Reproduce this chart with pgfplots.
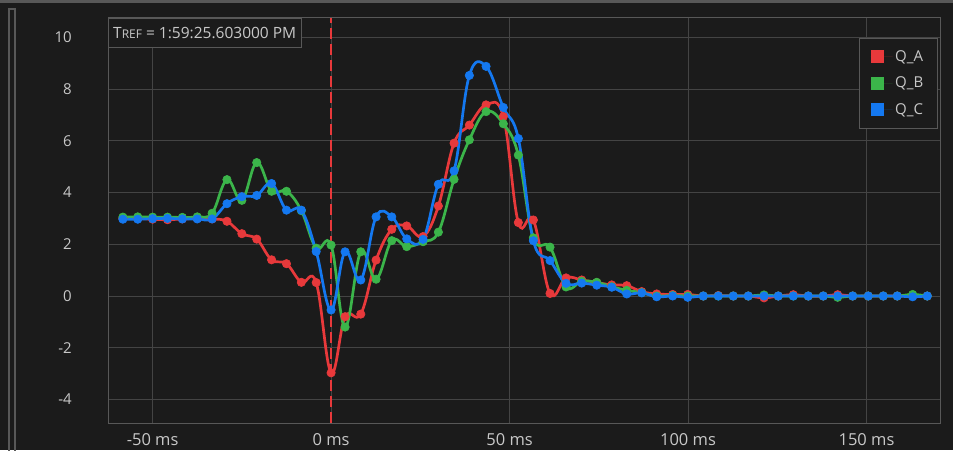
\documentclass[border=0pt]{standalone}
\usepackage{pgfplots}
\pgfplotsset{compat=1.18}
\usepackage{fontspec}
\setmainfont{Open Sans}
\definecolor{bg}{HTML}{1B1B1B}
\definecolor{gridc}{HTML}{444444}
\definecolor{framec}{HTML}{585858}
\definecolor{textc}{HTML}{C8C8C8}
\definecolor{redQ}{HTML}{E8393B}
\definecolor{greenQ}{HTML}{3BB54A}
\definecolor{blueQ}{HTML}{1478F0}
\pgfplotsset{sqlegend/.style={legend image code/.code={\fill[##1] (0pt,-6.5pt) rectangle (13pt,6.5pt); \path (0pt,0pt) -- (22pt,0pt);}}}
\pgfplotsset{qline/.style={line width=2.7pt, smooth, tension=0.65, mark=*, mark size=4.2pt, mark options={fill=#1, draw=#1, line width=0.6pt}, color=#1}}
\begin{document}
\begin{tikzpicture}
\fill[bg] (0,0) rectangle (953pt,450pt);
\useasboundingbox (0,0) rectangle (953pt,450pt);
\fill[framec] (0,446.5pt) rectangle (953pt,450pt);
\draw[framec, line width=1.2pt] (9pt,-5pt) -- (9pt,441pt) -- (15pt,441pt) -- (15pt,-5pt);
\begin{axis}[
  at={(108pt,27pt)}, anchor=south west,
  width=832pt, height=405pt, scale only axis,
  xmin=-62.5, xmax=170.6, ymin=-4.91, ymax=10.75,
  axis line style={draw=framec, line width=1pt},
  grid=major, major grid style={draw=gridc, line width=1pt},
  tick style={draw=none},
  xtick={-50,0,50,100,150},
  xticklabels={-50 ms,0 ms,50 ms,100 ms,150 ms},
  ytick={-4,-2,0,2,4,6,8,10},
  yticklabels={-4,-2,0,2,4,6,8,10},
  xticklabel style={anchor=center, inner sep=0pt, yshift=-17pt, text=textc, font=\fontsize{16.5pt}{19pt}\selectfont},
  yticklabel style={anchor=east, inner sep=0pt, xshift=-36pt, text=textc, font=\fontsize{15pt}{18pt}\selectfont},
  legend style={at={(axis description cs:0.9964,0.9506)}, anchor=north east,
    draw=framec, fill=bg, text=textc, font=\fontsize{15pt}{18pt}\selectfont,
    inner xsep=11pt, inner ysep=10pt, row sep=9pt,
    nodes={inner sep=2.5pt}},
  legend cell align=left,
]
\draw[redQ, line width=2.4pt, dash pattern=on 11pt off 5pt] (axis cs:0,-4.91) -- (axis cs:0,10.75);
\addplot[forget plot, qline=redQ] coordinates {
(-58.33,3.00)(-54.17,3.00)(-50.00,2.97)(-45.83,2.95)(-41.67,2.98)(-37.50,3.00)(-33.33,2.98)(-29.17,2.89)(-25.00,2.41)(-20.83,2.20)(-16.67,1.40)(-12.50,1.25)(-8.33,0.53)(-4.17,0.52)(0,-2.97)(3.92,-0.80)(8.32,-0.70)(12.61,1.39)(17.00,2.58)(21.20,2.71)(25.77,2.30)(30.06,3.48)(34.45,5.91)(38.74,6.61)(43.42,7.39)(48.26,6.94)(52.46,2.84)(56.67,2.94)(61.34,0.10)(65.83,0.70)(70.22,0.62)(74.43,0.52)(78.63,0.43)(82.83,0.40)(87.03,0.17)(91.23,0.08)(95.71,0.06)(99.92,0.06)(104.29,0.0)(108.49,0.02)(112.69,0.0)(116.89,0.0)(121.29,-0.07)(125.29,0.0)(129.50,0.05)(133.70,0.0)(137.90,0.0)(141.93,0.05)(146.13,0.0)(150.50,0.0)(154.71,0.0)(158.63,0.0)(162.94,0.0)(167.03,0.0)
};
\addplot[forget plot, qline=greenQ] coordinates {
(-58.33,3.05)(-54.17,3.06)(-50.00,3.05)(-45.83,3.05)(-41.67,3.04)(-37.50,3.06)(-33.33,3.20)(-29.17,4.50)(-25.00,3.70)(-20.83,5.16)(-16.67,4.05)(-12.50,4.05)(-8.33,3.30)(-4.17,1.85)(0,1.97)(3.92,-1.20)(8.32,1.71)(12.61,0.65)(17.00,2.14)(21.20,1.91)(25.77,2.10)(30.06,2.47)(34.45,4.51)(38.74,6.04)(43.42,7.13)(48.26,6.66)(52.46,5.45)(56.67,2.25)(61.34,1.89)(65.83,0.35)(70.22,0.57)(74.43,0.53)(78.63,0.36)(82.83,0.22)(87.03,0.13)(91.23,0.00)(95.71,0.02)(99.92,0.0)(104.29,0.0)(108.49,0.0)(112.69,0.0)(116.89,0.0)(121.29,0.04)(125.29,0.0)(129.50,0.0)(133.70,0.0)(137.90,0.0)(141.93,-0.05)(146.13,0.0)(150.50,0.0)(154.71,0.0)(158.63,0.0)(162.94,0.06)(167.03,0.0)
};
\addplot[forget plot, qline=blueQ] coordinates {
(-58.33,2.97)(-54.17,2.97)(-50.00,2.99)(-45.83,3.00)(-41.67,2.98)(-37.50,2.98)(-33.33,2.98)(-29.17,3.57)(-25.00,3.84)(-20.83,3.89)(-16.67,4.35)(-12.50,3.32)(-8.33,3.32)(-4.17,1.72)(0,-0.54)(3.92,1.71)(8.32,0.62)(12.61,3.06)(17.00,3.06)(21.20,2.21)(25.77,2.19)(30.06,4.32)(34.45,4.84)(38.74,8.53)(43.42,8.88)(48.26,7.29)(52.46,6.09)(56.67,2.14)(61.34,1.37)(65.83,0.49)(70.22,0.50)(74.43,0.42)(78.63,0.34)(82.83,0.08)(87.03,0.12)(91.23,-0.03)(95.71,0.0)(99.92,-0.05)(104.29,0.0)(108.49,0.0)(112.69,0.0)(116.89,0.0)(121.29,0.0)(125.29,0.0)(129.50,0.0)(133.70,0.0)(137.90,0.0)(141.93,0.0)(146.13,0.0)(150.50,0.0)(154.71,0.0)(158.63,0.0)(162.94,-0.03)(167.03,0.0)
};
\addlegendimage{sqlegend, fill=redQ, draw=none}
\addlegendentry{Q\_A}
\addlegendimage{sqlegend, fill=greenQ, draw=none}
\addlegendentry{Q\_B}
\addlegendimage{sqlegend, fill=blueQ, draw=none}
\addlegendentry{Q\_C}
\node[draw=framec, fill=bg, anchor=north west, inner xsep=5pt, inner ysep=0pt, minimum height=29pt, text=textc, font=\fontsize{15.5pt}{18pt}\selectfont] at (rel axis cs:0,1) {T{\fontsize{12pt}{14pt}\selectfont REF} = 1:59:25.603000 PM};
\end{axis}
\end{tikzpicture}
\end{document}
